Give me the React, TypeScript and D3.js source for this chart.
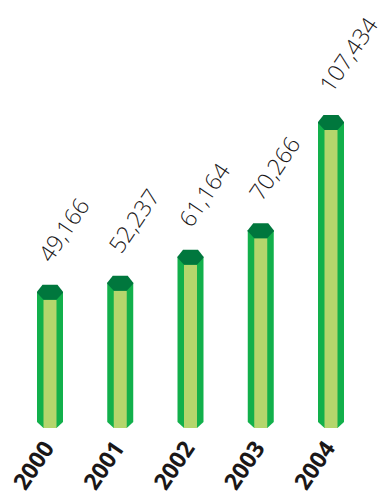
import React from "react";
import * as d3 from "d3";

const years = ["2000", "2001", "2002", "2003", "2004"];
const values = [49166, 52237, 61164, 70266, 107434];
const valueLabels = ["49,166", "52,237", "61,164", "70,266", "107,434"];

const W = 386;
const H = 500;
const BASE = 428;
const TOPY = 115;

export default function App() {
  const x = d3.scaleBand<string>().domain(years).range([37, 344]).paddingInner(0.63).paddingOuter(0);
  const y = d3.scaleLinear().domain([0, d3.max(values) as number]).range([BASE, TOPY]);
  const bw = x.bandwidth();
  const side = bw * 0.25;
  const capH = 7;
  const capB = 15;
  const ch = 6;

  return (
    <svg width={W} height={H} style={{ position: "absolute", left: 0, top: 0 }}>
      <rect width={W} height={H} fill="#fff" />
      {years.map((yr, i) => {
        const x0 = x(yr) as number;
        const x1 = x0 + bw;
        const t = y(values[i]);
        const b = y(0);
        const outer = [
          [x0, t + capH],
          [x1, t + capH],
          [x1, b - ch],
          [x1 - side, b],
          [x0 + side, b],
          [x0, b - ch],
        ];
        const inner = [
          [x0 + side, t + capB],
          [x1 - side, t + capB],
          [x1 - side, b],
          [x0 + side, b],
        ];
        const cap = [
          [x0 + side * 0.85, t],
          [x1 - side * 0.85, t],
          [x1, t + capH],
          [x1, t + capH + 1],
          [x1 - side, t + capB],
          [x0 + side, t + capB],
          [x0, t + capH + 1],
          [x0, t + capH],
        ];
        const pts = (p: number[][]) => p.map((q) => q.join(",")).join(" ");
        const cx = x0 + bw / 2;
        return (
          <g key={yr}>
            <polygon points={pts(outer)} fill="#12b04b" />
            <polygon points={pts(inner)} fill="#b4d66c" />
            <polygon points={pts(cap)} fill="#00773d" />
            <text
              transform={`translate(${cx + 1},${t - 21}) rotate(-56)`}
              fontFamily="'Open Sans', sans-serif"
              fontWeight={350}
              fontSize={23}
              fill="#1a1718"
            >
              {valueLabels[i]}
            </text>
            <text
              transform={`translate(${cx + 5},${b + 20}) rotate(-56)`}
              textAnchor="end"
              fontFamily="'Open Sans', sans-serif"
              fontWeight={700}
              fontSize={23}
              fill="#1a1718"
            >
              {yr}
            </text>
          </g>
        );
      })}
    </svg>
  );
}
